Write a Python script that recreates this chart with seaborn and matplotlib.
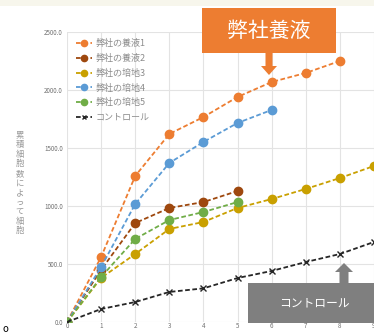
import matplotlib
matplotlib.use("Agg")
import matplotlib.pyplot as plt
from matplotlib.patches import Rectangle, FancyArrow
import matplotlib.colors as mcolors
import seaborn as sns
import pandas as pd

sns.set_theme(style="whitegrid")
plt.rcParams["font.family"] = ["Noto Sans CJK JP", "DejaVu Sans"]

# Culture days and cell counts per medium
series_names = ["弊社の養液1", "弊社の養液2", "弊社の培地3", "弊社の培地4", "弊社の培地5", "コントロール"]
days_medium1 = [0, 1, 2, 3, 4, 5, 6, 7, 8]
medium1 = [0, 560, 1259, 1621, 1767, 1940, 2069, 2147, 2250]
days_medium2 = [0, 1, 2, 3, 4, 5]
medium2 = [0, 450, 853, 983, 1034, 1129]
days_medium3 = [0, 1, 2, 3, 4, 5, 6, 7, 8, 9]
medium3 = [0, 380, 586, 802, 862, 983, 1060, 1147, 1241, 1345]
days_medium4 = [0, 1, 2, 3, 4, 5, 6]
medium4 = [0, 474, 1017, 1371, 1552, 1716, 1828]
days_medium5 = [0, 1, 2, 3, 4, 5]
medium5 = [0, 388, 716, 879, 948, 1034]
days_control = [0, 1, 2, 3, 4, 5, 6, 7, 8, 9]
control = [0, 112, 172, 259, 290, 379, 440, 517, 586, 690]

y_ticks = [0, 500, 1000, 1500, 2000, 2500]
y_tick_labels = ["0.0", "500.0", "1000.0", "1500.0", "2000.0", "2500.0"]
x_ticks = [0, 1, 2, 3, 4, 5, 6, 7, 8, 9]

colors = ["#ED7D31", "#9E480E", "#C9A000", "#5B9BD5", "#70AD47", "#262626"]
control_color = colors[-1]

frames = []
for name, xs, ys in zip(series_names,
                        [days_medium1, days_medium2, days_medium3, days_medium4, days_medium5, days_control],
                        [medium1, medium2, medium3, medium4, medium5, control]):
    frames.append(pd.DataFrame({"day": xs, "count": ys, "series": name}))
df = pd.concat(frames, ignore_index=True)

fig = plt.figure(figsize=(3.74, 3.35), dpi=100)
ax = fig.add_axes([67 / 374, 13 / 335, 307 / 374, 290 / 335])

markers = {n: "o" for n in series_names}
dashes = {n: (2.6, 1.4) for n in series_names}

sns.lineplot(data=df, x="day", y="count", hue="series", style="series",
             hue_order=series_names, style_order=series_names,
             palette=dict(zip(series_names, colors)),
             markers=markers, dashes=dashes, markersize=6,
             markeredgewidth=1.0, linewidth=1.3, ax=ax)


def restyle(line, size):
    c = line.get_color()
    if mcolors.same_color(c, control_color):
        line.set_marker("x")
        line.set_markersize(size - 1)
        line.set_markeredgecolor(c)
        line.set_markeredgewidth(1.0)
    elif line.get_marker() == "o":
        line.set_markersize(size)
        line.set_markeredgecolor(c)
        line.set_markerfacecolor(c)


for line in ax.lines:
    restyle(line, 6)

old = ax.get_legend()
handles = list(old.legend_handles)
labels = [t.get_text() for t in old.get_texts()]
for h in handles:
    restyle(h, 4.5)
old.remove()

ax.set_xlim(0, 9)
ax.set_ylim(0, 2500)
ax.set_xticks(x_ticks)
ax.set_yticks(y_ticks)
ax.set_yticklabels(y_tick_labels)
ax.tick_params(axis="y", labelsize=4.5, colors="#707070", pad=3, length=0)
ax.tick_params(axis="x", labelsize=4.5, colors="#707070", pad=0.3, length=0)
ax.set_xlabel("")
ax.set_ylabel("")
for s in ax.spines.values():
    s.set_visible(False)
ax.grid(True, color="#E3E3E3", linewidth=0.8)

leg = ax.legend(handles, labels, loc="upper left", bbox_to_anchor=(0.015, 0.99), frameon=False,
                fontsize=6.5, handlelength=1.8, labelspacing=0.62,
                borderaxespad=0.1, handletextpad=0.3)
for t in leg.get_texts():
    t.set_color("#8C8C8C")

# Vertical axis label (upright characters)
ylabel = "累積細胞数によって細胞"
fig.text(20 / 374, 1 - 183 / 335, "\n".join(ylabel), ha="center", va="center",
         fontsize=6, color="#999999", linespacing=1.08)

# Decoration layer in pixel coordinates
ov = fig.add_axes([0, 0, 1, 1], zorder=5)
ov.set_xlim(0, 374)
ov.set_ylim(335, 0)
ov.axis("off")
ov.patch.set_alpha(0)

ov.add_patch(Rectangle((0, 0), 374, 6, color="#F7F6EC", lw=0))

ov.add_patch(Rectangle((202, 8), 134, 45, color="#ED7D31", lw=0))
ov.text(269, 31, "弊社養液", color="white", fontsize=15, ha="center", va="center")
ov.add_patch(FancyArrow(269, 52, 0, 23, width=7, head_width=16, head_length=9,
                        length_includes_head=True, color="#ED7D31", lw=0))

ov.add_patch(Rectangle((248, 283), 126, 40, color="#7F7F7F", lw=0))
ov.text(314, 303, "コントロール", color="white", fontsize=8.5, ha="center", va="center")
ov.add_patch(FancyArrow(344, 284, 0, -21, width=9, head_width=18, head_length=9,
                        length_includes_head=True, color="#7F7F7F", lw=0))

ov.text(5, 329, "o", fontsize=7, color="black", ha="center", va="center")

fig.savefig("out.png", dpi=100)
